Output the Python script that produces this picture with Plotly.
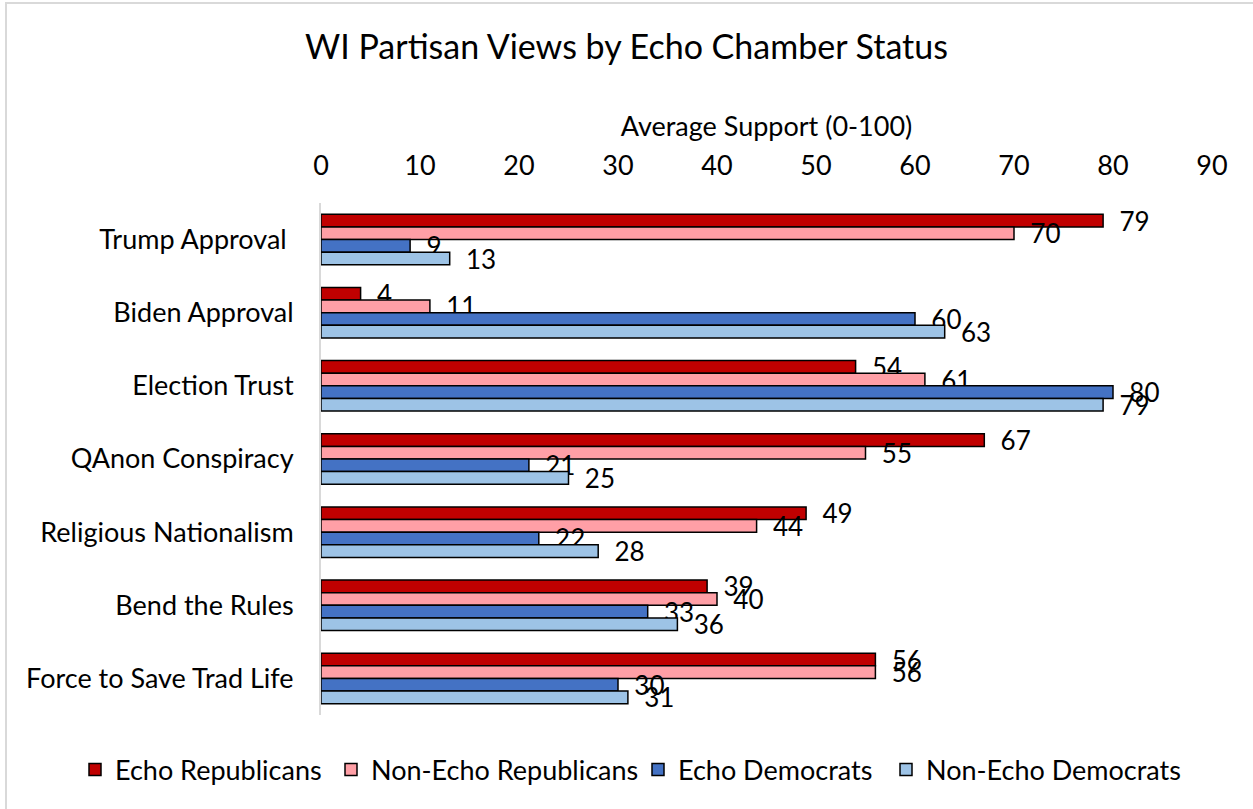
import plotly.graph_objects as go

# Survey items (top to bottom) and average support scores (0-100)
categories = [
    "Trump Approval\u00a0",
    "Biden Approval",
    "Election Trust",
    "QAnon Conspiracy",
    "Religious Nationalism",
    "Bend the Rules",
    "Force to Save Trad Life",
]
echo_republicans = [79, 4, 54, 67, 49, 39, 56]
non_echo_republicans = [70, 11, 61, 55, 44, 40, 56]
echo_democrats = [9, 60, 80, 21, 22, 33, 30]
non_echo_democrats = [13, 63, 79, 25, 28, 36, 31]

series_names = ["Echo Republicans", "Non-Echo Republicans", "Echo Democrats", "Non-Echo Democrats"]
series_values = [echo_republicans, non_echo_republicans, echo_democrats, non_echo_democrats]
series_colors = ["#C00000", "#FF9FA6", "#4472C4", "#9DC3E6"]

x_ticks = [0, 10, 20, 30, 40, 50, 60, 70, 80, 90]

FONT = "Lato"
FS = 27
W, H = 1253, 809
ML, MR, MT, MB = 321, 41, 203, 94

# One legend per series so the entries sit in a single tight row
legend_ids = ["legend", "legend2", "legend3", "legend4"]
legend_left_px = [75, 331, 638, 886]

fig = go.Figure()
for name, vals, color, lid in zip(series_names, series_values, series_colors, legend_ids):
    fig.add_trace(go.Bar(
        name=name,
        y=categories,
        x=vals,
        orientation="h",
        legend=lid,
        marker=dict(color=color, line=dict(color="#000000", width=1.5)),
        text=vals,
        texttemplate="\u00a0\u00a0%{x}",
        textposition="outside",
        constraintext="none",
        cliponaxis=False,
        textfont=dict(family=FONT, size=26, color="#000000"),
    ))

plot_w = W - ML - MR
plot_h = H - MT - MB

# Light grey frame around the whole chart
fig.add_shape(
    type="rect", xref="paper", yref="paper",
    x0=(6 - ML) / plot_w, x1=(W + 10 - ML) / plot_w,
    y0=(H - MB - (H + 10)) / plot_h, y1=(H - MB - 3) / plot_h,
    line=dict(color="#D9D9D9", width=2), fillcolor="rgba(0,0,0,0)", layer="below",
)

legend_layout = {}
for lid, left in zip(legend_ids, legend_left_px):
    legend_layout[lid] = dict(
        orientation="h", xref="container", yref="container",
        x=left / W, xanchor="left", y=1 - 770 / H, yanchor="middle",
        font=dict(family=FONT, size=FS, color="#000000"),
        itemwidth=30, bgcolor="rgba(0,0,0,0)",
    )

fig.update_layout(
    width=W, height=H,
    margin=dict(l=ML, r=MR, t=MT, b=MB),
    paper_bgcolor="white", plot_bgcolor="white",
    barmode="group", bargap=0.31, bargroupgap=0,
    font=dict(family=FONT, color="#000000"),
    title=dict(
        text="WI Partisan Views by Echo Chamber Status",
        font=dict(family=FONT, size=34, color="#000000"),
        x=0.5, xref="container", xanchor="center",
        y=1 - 47 / H, yref="container", yanchor="middle",
    ),
    xaxis=dict(
        side="top", range=[0, 90], tickvals=x_ticks,
        showgrid=False, zeroline=False, showline=False,
        ticks="outside", ticklen=16, tickcolor="rgba(0,0,0,0)",
        tickfont=dict(family=FONT, size=FS, color="#000000"),
        title=dict(text="Average Support (0-100)", font=dict(family=FONT, size=FS, color="#000000"), standoff=3),
    ),
    yaxis=dict(
        autorange="reversed",
        showgrid=False, showline=True, linecolor="#D9D9D9", linewidth=2,
        ticks="outside", ticklen=20, tickcolor="rgba(0,0,0,0)",
        tickfont=dict(family=FONT, size=FS, color="#000000"),
    ),
    showlegend=True,
    **legend_layout,
)

fig.write_html("out.html")
